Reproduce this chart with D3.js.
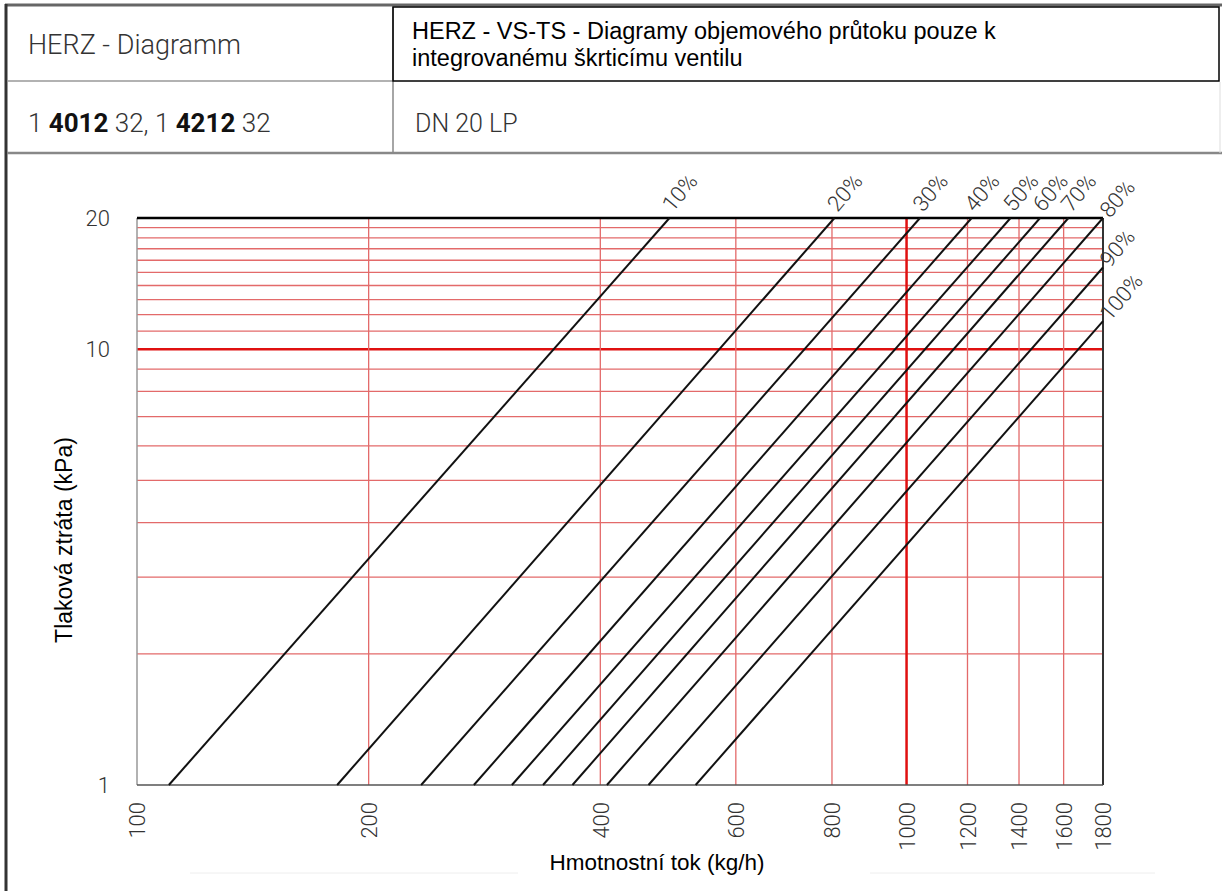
<!DOCTYPE html>
<html>
<head>
<meta charset="utf-8">
<script src="https://cdn.jsdelivr.net/npm/d3@7"></script>
<style>
  body { margin: 0; background: #fff; }
  svg { display: block; }
</style>
</head>
<body>
<svg id="chart" width="1222" height="891"></svg>
<script>
// valve opening curves (flow in kg/h, pressure drop in kPa)
const openings   = ['10%', '20%', '30%', '40%', '50%', '60%', '70%', '80%', '90%', '100%'];
const flowAt1kPa = [110, 182, 234, 274, 307, 337, 368, 408, 462, 532];
const endFlow    = [492, 806, 1041, 1215, 1365, 1491, 1623, 1800, 1800, 1800];
const endDp      = [20, 20, 20, 20, 20, 20, 20, 20, 15.4, 11.6];

const xTicks  = [100, 200, 400, 600, 800, 1000, 1200, 1400, 1600, 1800];
const xGrid   = [200, 400, 600, 800, 1000, 1200, 1400, 1600];
const yTicks  = [1, 10, 20];
const yGrid   = [2, 3, 4, 5, 6, 7, 8, 9, 10, 11, 12, 13, 14, 15, 16, 17, 18, 19];

const svg = d3.select('#chart');
const sans = '"Liberation Sans", Arial, Helvetica, sans-serif';
const light = 'Roboto, "Liberation Sans", Arial, sans-serif';

// ---- header table ----
const head = svg.append('g');
head.append('line').attr('x1', 5).attr('x2', 1222).attr('y1', 5).attr('y2', 5)
  .attr('stroke', '#666').attr('stroke-width', 3);
head.append('line').attr('x1', 6).attr('x2', 6).attr('y1', 4).attr('y2', 891)
  .attr('stroke', '#333').attr('stroke-width', 3);
head.append('line').attr('x1', 393).attr('x2', 393).attr('y1', 7).attr('y2', 153)
  .attr('stroke', '#888').attr('stroke-width', 1.5);
head.append('line').attr('x1', 7).attr('x2', 393).attr('y1', 81).attr('y2', 81)
  .attr('stroke', '#999').attr('stroke-width', 1.5);
head.append('line').attr('x1', 7).attr('x2', 1222).attr('y1', 153).attr('y2', 153)
  .attr('stroke', '#888').attr('stroke-width', 2.5);
head.append('line').attr('x1', 1220).attr('x2', 1220).attr('y1', 82).attr('y2', 153)
  .attr('stroke', '#ddd').attr('stroke-width', 1);
head.append('rect').attr('x', 393).attr('y', 7).attr('width', 826).attr('height', 74)
  .attr('fill', 'none').attr('stroke', '#000').attr('stroke-width', 1.5);

head.append('text').attr('x', 28).attr('y', 54)
  .attr('font-family', light).attr('font-weight', 300).attr('font-size', 27).attr('fill', '#333')
  .text('HERZ - Diagramm');

head.append('text').attr('x', 412).attr('y', 39)
  .attr('font-family', sans).attr('font-size', 23.5).attr('fill', '#000')
  .text('HERZ - VS-TS - Diagramy objemového průtoku pouze k');
head.append('text').attr('x', 412).attr('y', 66)
  .attr('font-family', sans).attr('font-size', 23.5).attr('fill', '#000')
  .text('integrovanému škrticímu ventilu');

const code = head.append('text').attr('x', 28).attr('y', 132)
  .attr('font-family', light).attr('font-weight', 300).attr('font-size', 26).attr('fill', '#333');
[['1 ', 300], ['4012', 700], [' 32, 1 ', 300], ['4212', 700], [' 32', 300]].forEach(function(p) {
  code.append('tspan').attr('font-weight', p[1]).attr('fill', p[1] === 700 ? '#111' : '#333').text(p[0]);
});

head.append('text').attr('x', 415).attr('y', 132)
  .attr('font-family', light).attr('font-weight', 300).attr('font-size', 25).attr('fill', '#333')
  .text('DN 20 LP');

// ---- plot ----
const x = d3.scaleLog().domain([100, 1800]).range([137, 1103]);
const y = d3.scaleLog().domain([1, 20]).range([785, 218]);

const grid = svg.append('g');
grid.selectAll('.hgrid').data(yGrid).enter().append('line')
  .attr('class', 'hgrid')
  .attr('x1', x(100)).attr('x2', x(1800))
  .attr('y1', d => y(d)).attr('y2', d => y(d))
  .attr('stroke', d => d === 10 ? '#e01010' : '#e36a6a')
  .attr('stroke-width', d => d === 10 ? 2.5 : 1.3);

grid.selectAll('.vgrid').data(xGrid).enter().append('line')
  .attr('class', 'vgrid')
  .attr('x1', d => x(d)).attr('x2', d => x(d))
  .attr('y1', y(20)).attr('y2', y(1))
  .attr('stroke', d => d === 1000 ? '#e01010' : '#e36a6a')
  .attr('stroke-width', d => d === 1000 ? 2.5 : 1.3);

// frame
grid.append('line').attr('x1', x(100)).attr('x2', x(100)).attr('y1', y(20)).attr('y2', y(1))
  .attr('stroke', '#999').attr('stroke-width', 1.5);
grid.append('line').attr('x1', x(1800)).attr('x2', x(1800)).attr('y1', y(20)).attr('y2', y(1))
  .attr('stroke', '#333').attr('stroke-width', 2);
grid.append('line').attr('x1', x(100)).attr('x2', x(1800)).attr('y1', y(1)).attr('y2', y(1))
  .attr('stroke', '#555').attr('stroke-width', 1.5);
grid.append('line').attr('x1', x(100)).attr('x2', x(1800)).attr('y1', y(20)).attr('y2', y(20))
  .attr('stroke', '#000').attr('stroke-width', 2.5);

// opening curves
const curves = openings.map(function(name, i) {
  return { name: name, pts: [[flowAt1kPa[i], 1], [endFlow[i], endDp[i]]] };
});
const line = d3.line().x(d => x(d[0])).y(d => y(d[1]));

svg.append('g').selectAll('path').data(curves).enter().append('path')
  .attr('d', d => line(d.pts))
  .attr('fill', 'none').attr('stroke', '#111').attr('stroke-width', 2);

svg.append('g').selectAll('text').data(curves).enter().append('text')
  .attr('transform', function(d) {
    const e = d.pts[1];
    const onRight = e[0] >= 1800;
    const px = x(e[0]) + (onRight ? 7 : 3);
    const py = y(e[1]) + (onRight ? 1 : -5);
    return 'translate(' + px + ',' + py + ') rotate(-50)';
  })
  .attr('font-family', light).attr('font-weight', 300).attr('font-size', 22).attr('fill', '#333')
  .text(d => d.name);

// axes
const xAxis = svg.append('g').attr('transform', 'translate(0,' + y(1) + ')')
  .call(d3.axisBottom(x).tickValues(xTicks).tickFormat(d3.format('d')).tickSize(0));
xAxis.select('.domain').remove();
xAxis.selectAll('text')
  .attr('transform', 'rotate(-90)')
  .attr('x', -17).attr('y', 0).attr('dy', '.36em')
  .style('text-anchor', 'end')
  .attr('font-family', light).attr('font-weight', 300).attr('font-size', 22).attr('fill', '#333');

const yAxis = svg.append('g').attr('transform', 'translate(' + x(100) + ',0)')
  .call(d3.axisLeft(y).tickValues(yTicks).tickFormat(d3.format('d')).tickSize(0).tickPadding(27));
yAxis.select('.domain').remove();
yAxis.selectAll('text')
  .attr('font-family', light).attr('font-weight', 300).attr('font-size', 22).attr('fill', '#333');

svg.append('text').attr('x', 657).attr('y', 870).attr('text-anchor', 'middle')
  .attr('font-family', sans).attr('font-size', 22.5).attr('fill', '#000')
  .text('Hmotnostní tok (kg/h)');
svg.append('text').attr('transform', 'translate(72,540) rotate(-90)').attr('text-anchor', 'middle')
  .attr('font-family', sans).attr('font-size', 23).attr('fill', '#000')
  .text('Tlaková ztráta (kPa)');

// faint separators under the axis title
svg.append('line').attr('x1', 190).attr('x2', 518).attr('y1', 873).attr('y2', 873)
  .attr('stroke', '#eee').attr('stroke-width', 1);
svg.append('line').attr('x1', 870).attr('x2', 1155).attr('y1', 873).attr('y2', 873)
  .attr('stroke', '#eee').attr('stroke-width', 1);
</script>
</body>
</html>
